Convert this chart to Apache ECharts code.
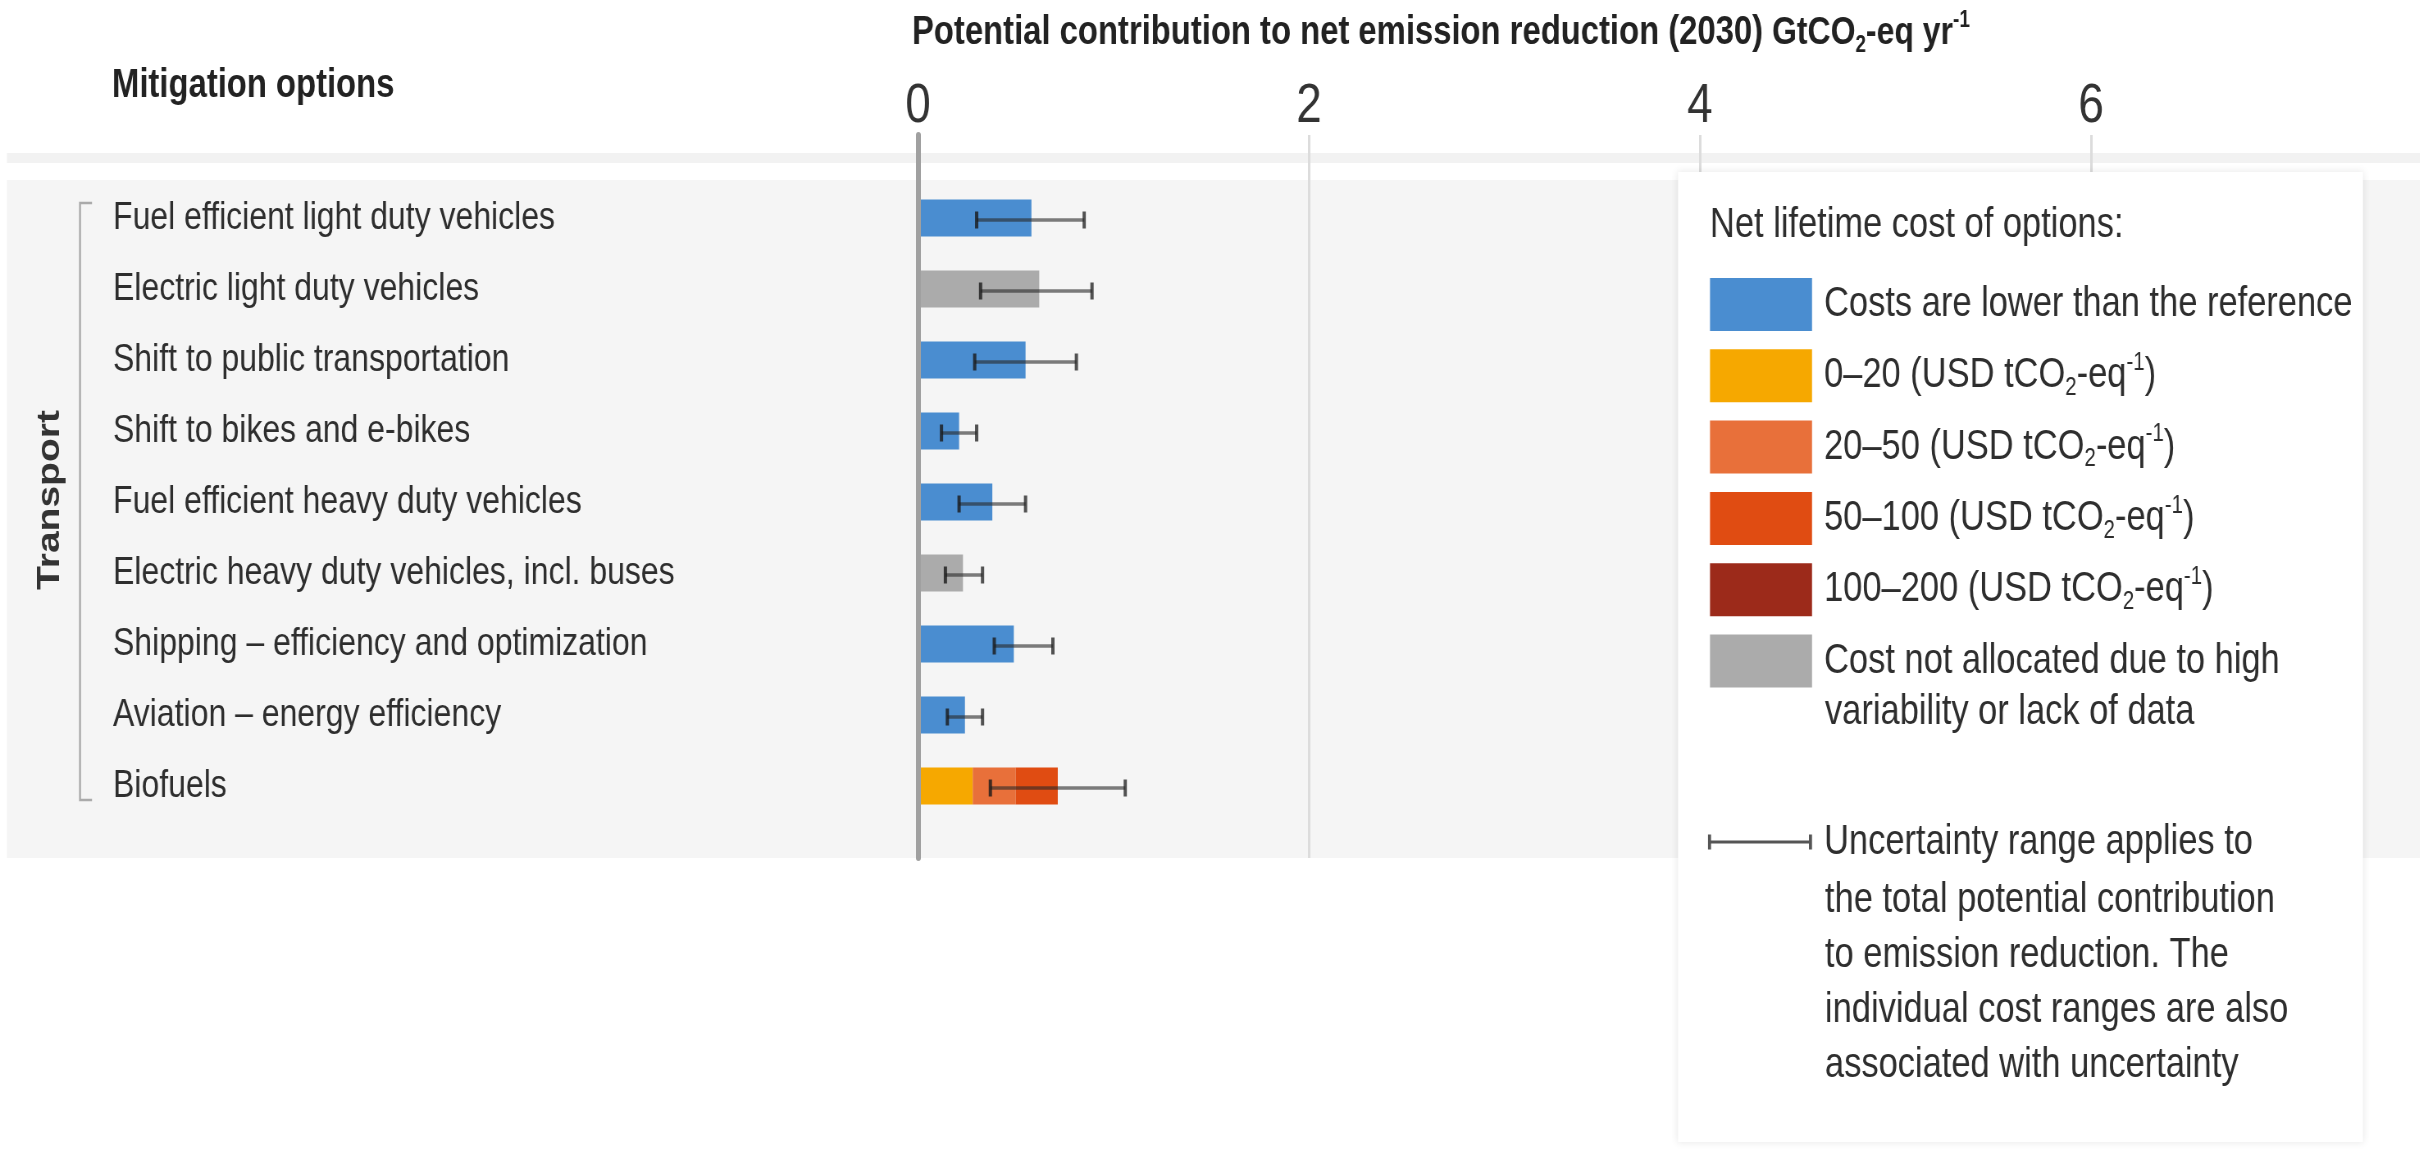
<!DOCTYPE html>
<html>
<head>
<meta charset="utf-8">
<script src="https://cdn.jsdelivr.net/npm/echarts@6/dist/echarts.min.js"></script>
<style>
  html, body { margin: 0; padding: 0; background: #ffffff; overflow: hidden; }
  #wrap { width: 2420px; height: 1153px; overflow: hidden; }
  /* the reference uses a condensed face: draw wide, then compress horizontally */
  #chart { width: 2952px; height: 1153px; transform: scaleX(0.82); transform-origin: 0 0; }
</style>
</head>
<body>
<div id="wrap"><div id="chart"></div></div>
<script>
// ---------------- DATA ----------------
const categories = [
  'Fuel efficient light duty vehicles',
  'Electric light duty vehicles',
  'Shift to public transportation',
  'Shift to bikes and e-bikes',
  'Fuel efficient heavy duty vehicles',
  'Electric heavy duty vehicles, incl. buses',
  'Shipping \u2013 efficiency and optimization',
  'Aviation \u2013 energy efficiency',
  'Biofuels'
];
const costLower    = [0.58, null, 0.55, 0.21, 0.38, null, 0.49, 0.24, null];
const cost0to20    = [null, null, null, null, null, null, null, null, 0.28];
const cost20to50   = [null, null, null, null, null, null, null, null, 0.22];
const cost50to100  = [null, null, null, null, null, null, null, null, 0.215];
const cost100to200 = [null, null, null, null, null, null, null, null, null];
const notAllocated = [null, 0.62, null, null, null, 0.23, null, null, null];
const uncertaintyLow  = [0.30, 0.32, 0.29, 0.12, 0.21, 0.14, 0.39, 0.15, 0.37];
const uncertaintyHigh = [0.85, 0.89, 0.81, 0.30, 0.55, 0.33, 0.69, 0.33, 1.06];
const xTicks = [0, 2, 4, 6];
const seriesNames = [
  'Costs are lower than the reference',
  '0\u201320 (USD tCO2-eq-1)',
  '20\u201350 (USD tCO2-eq-1)',
  '50\u2013100 (USD tCO2-eq-1)',
  '100\u2013200 (USD tCO2-eq-1)',
  'Cost not allocated due to high'
];
const uncertaintyName = 'Uncertainty range applies to';

// ---------------- STYLE ----------------
const SX = 0.82;                 // horizontal compression applied by CSS
const X = v => v / SX;           // screen x -> drawing x
const FONT = "'Liberation Sans', Arial, sans-serif";
const TXT = '#2e2e2e';
const colors = ['#4a8dd0', '#f6a800', '#e8703a', '#e04c12', '#9c2a1a', '#ababab'];
const seriesData = [costLower, cost0to20, cost20to50, cost50to100, cost100to200, notAllocated];

function unitRich(prefix) {
  return '{f|' + prefix + ' (USD tCO}{sub|2}{t|-eq}{sup|-1}{t|)}';
}
const legendLabels = {};
legendLabels[seriesNames[0]] = '{f|Costs are lower than the reference}';
legendLabels[seriesNames[1]] = unitRich('0\u201320');
legendLabels[seriesNames[2]] = unitRich('20\u201350');
legendLabels[seriesNames[3]] = unitRich('50\u2013100');
legendLabels[seriesNames[4]] = unitRich('100\u2013200');
legendLabels[seriesNames[5]] = '{f|Cost not allocated due to high}';
legendLabels[uncertaintyName] = '{f|Uncertainty range applies to}';

const legendRich = {
  f: { fontFamily: FONT, fontSize: 42, lineHeight: 50, color: TXT, padding: [0, 0, 0, X(8)] },
  t: { fontFamily: FONT, fontSize: 42, lineHeight: 50, color: TXT },
  sub: { fontFamily: FONT, fontSize: 25, lineHeight: 24, verticalAlign: 'bottom', color: TXT },
  sup: { fontFamily: FONT, fontSize: 25, lineHeight: 24, verticalAlign: 'top', color: TXT }
};

const chart = echarts.init(document.getElementById('chart'), null, { renderer: 'canvas' });

const barSeries = seriesNames.map((name, i) => ({
  name: name,
  type: 'bar',
  stack: 'total',
  xAxisIndex: 0,
  yAxisIndex: 0,
  barWidth: 37,
  itemStyle: { color: colors[i] },
  data: seriesData[i],
  silent: true
}));

const errData = categories.map((c, i) => [i, uncertaintyLow[i], uncertaintyHigh[i]]);

const option = {
  backgroundColor: '#ffffff',
  animation: false,
  title: [
    {
      text: '{b|Potential contribution to net emission reduction (2030)}{r| GtCO}{sub|2}{r|-eq yr}{sup|-1}',
      left: X(912), top: 9, padding: 0,
      textStyle: {
        rich: {
          b: { fontFamily: FONT, fontWeight: 'bold', fontSize: 40, lineHeight: 48, color: '#222' },
          r: { fontFamily: FONT, fontSize: 39, lineHeight: 48, color: '#222' },
          sub: { fontFamily: FONT, fontSize: 23, lineHeight: 22, verticalAlign: 'bottom', color: '#222' },
          sup: { fontFamily: FONT, fontSize: 23, lineHeight: 22, verticalAlign: 'top', color: '#222' }
        }
      }
    },
    {
      text: 'Mitigation options',
      left: X(112), top: 62, padding: 0,
      textStyle: { fontFamily: FONT, fontWeight: 'bold', fontSize: 40, lineHeight: 48, color: '#222' }
    }
  ],
  grid: [
    { left: X(918), width: X(1564), top: 182.5, height: 639, outerBoundsMode: 'none', containLabel: false },
    { left: X(918), width: X(1564), top: 135, height: 723, outerBoundsMode: 'none', containLabel: false }
  ],
  xAxis: [
    { type: 'value', gridIndex: 0, min: 0, max: 8, interval: 2, show: false },
    {
      type: 'value', gridIndex: 1, position: 'top', min: 0, max: 8, interval: 2,
      axisLine: { show: false, onZero: false },
      axisTick: { show: false },
      axisLabel: {
        fontFamily: FONT, fontSize: 56, color: '#333', margin: 0,
        formatter: v => (xTicks.indexOf(v) >= 0 ? String(v) : '')
      },
      splitLine: { show: true, lineStyle: { color: '#dcdcdc', width: 3 } }
    }
  ],
  yAxis: [
    {
      type: 'category', gridIndex: 0, inverse: true, data: categories,
      axisLine: { show: false }, axisTick: { show: false }, splitLine: { show: false },
      axisLabel: {
        align: 'left', margin: X(805), fontFamily: FONT, fontSize: 39, color: TXT,
        padding: [18, 0, 0, 0]
      }
    },
    {
      type: 'value', gridIndex: 1, min: 0, max: 1,
      axisLine: { show: true, onZero: false, lineStyle: { color: '#a0a0a0', width: 6 } },
      axisTick: { show: false }, axisLabel: { show: false }, splitLine: { show: false },
      z: 6
    }
  ],
  legend: [
    {
      orient: 'vertical', left: X(1710), top: 278, padding: 0,
      itemWidth: X(102), itemHeight: 53, itemGap: 18.3,
      selectedMode: false,
      data: seriesNames.map(n => ({ name: n, icon: 'rect' })),
      formatter: name => legendLabels[name],
      textStyle: { fontFamily: FONT, fontSize: 42, color: TXT, rich: legendRich }
    },
    {
      orient: 'vertical', left: X(1708), top: 821, padding: 0,
      itemWidth: X(104), itemHeight: 15,
      selectedMode: false,
      data: [{
        name: uncertaintyName,
        icon: 'path://M0,0H3.7V6H123.1V0H126.8V15H123.1V9H3.7V15H0Z',
        itemStyle: { color: '#555555' }
      }],
      formatter: name => legendLabels[name],
      textStyle: { fontFamily: FONT, fontSize: 42, color: TXT, rich: legendRich }
    }
  ],
  graphic: [
    { type: 'rect', z: -10, silent: true, shape: { x: X(7), y: 153, width: X(2413), height: 10 }, style: { fill: '#f2f2f2' } },
    { type: 'rect', z: -10, silent: true, shape: { x: X(7), y: 180, width: X(2413), height: 678 }, style: { fill: '#f5f5f5' } },
    { type: 'rect', z: 3, silent: true, shape: { x: X(1678), y: 172, width: X(685), height: 970 },
      style: { fill: '#ffffff', shadowBlur: 8, shadowColor: 'rgba(0,0,0,0.10)' } },
    { type: 'polyline', z: 5, silent: true, shape: { points: [[X(92), 203], [X(80), 203], [X(80), 800], [X(92), 800]] },
      style: { stroke: '#aaaaaa', lineWidth: 2.4, fill: null } },
    { type: 'text', z: 10, silent: true, x: X(50), y: 500, rotation: Math.PI / 2,
      style: { text: 'Transport', fontFamily: FONT, fontWeight: 'bold', fontSize: 39, fill: '#333', align: 'center', verticalAlign: 'middle' } },
    { type: 'text', z: 10, silent: true, x: X(1710), y: 225,
      style: { text: 'Net lifetime cost of options:', fontFamily: FONT, fontSize: 42, fill: TXT, align: 'left', verticalAlign: 'middle' } },
    { type: 'text', z: 10, silent: true, x: X(1825), y: 712,
      style: { text: 'variability or lack of data', fontFamily: FONT, fontSize: 42, fill: TXT, align: 'left', verticalAlign: 'middle' } },
    { type: 'text', z: 10, silent: true, x: X(1825), y: 873,
      style: {
        text: 'the total potential contribution\nto emission reduction. The\nindividual cost ranges are also\nassociated with uncertainty',
        fontFamily: FONT, fontSize: 42, lineHeight: 55, fill: TXT, align: 'left', verticalAlign: 'top'
      } }
  ],
  series: barSeries.concat([
    {
      name: uncertaintyName,
      type: 'custom',
      xAxisIndex: 0, yAxisIndex: 0,
      itemStyle: { color: '#555555' },
      encode: { x: [1, 2], y: 0 },
      data: errData,
      silent: true,
      z: 4,
      renderItem: function (params, api) {
        const lo = api.coord([api.value(1), api.value(0)]);
        const hi = api.coord([api.value(2), api.value(0)]);
        const h = 17;
        const y = lo[1] + 2;
        return {
          type: 'group',
          children: [
            { type: 'line', shape: { x1: lo[0], y1: y, x2: hi[0], y2: y },
              style: { stroke: 'rgba(40,40,40,0.6)', lineWidth: 3.5 } },
            { type: 'line', shape: { x1: lo[0], y1: y - h / 2, x2: lo[0], y2: y + h / 2 },
              style: { stroke: 'rgba(25,25,25,0.8)', lineWidth: 4 } },
            { type: 'line', shape: { x1: hi[0], y1: y - h / 2, x2: hi[0], y2: y + h / 2 },
              style: { stroke: 'rgba(40,40,40,0.8)', lineWidth: 4 } }
          ]
        };
      }
    }
  ])
};

chart.setOption(option);
</script>
</body>
</html>
